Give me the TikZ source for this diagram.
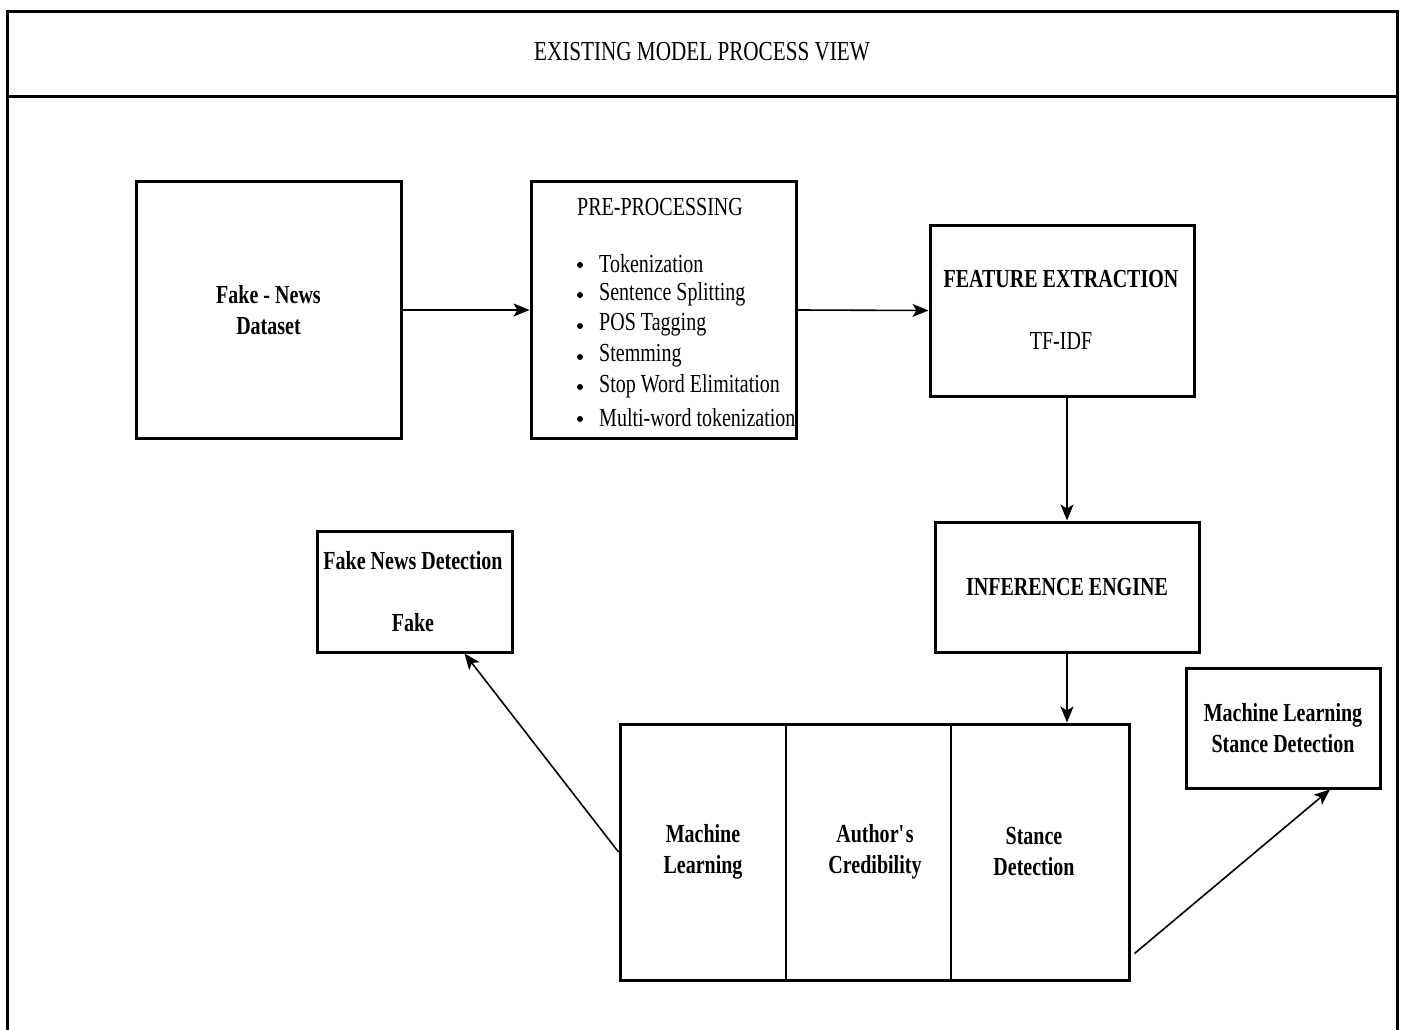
\documentclass[tikz,border=0pt]{standalone}
\usepackage{fontspec}
\setmainfont{Liberation Serif}[FakeStretch=0.77]
\usetikzlibrary{arrows.meta,calc}
\begin{document}
\begin{tikzpicture}[x=1pt,y=-1pt,
  box/.style={draw,line width=3pt,rectangle,inner sep=0pt,align=center},
  txt/.style={inner sep=0pt,align=center,font=\fontsize{26}{31}\selectfont},
  btxt/.style={txt,font=\fontsize{26}{31}\selectfont\bfseries},
  conn/.style={line width=1.6pt,-{Stealth[length=16pt,width=13pt,inset=4pt]}},
  frame/.style={line width=3pt}]
\useasboundingbox (0,0) rectangle (1401,1030);
% outer frame
\coordinate (ftl) at (7,12);
\coordinate (ftr) at (1397,12);
\coordinate (fbl) at (7,1032);
\coordinate (fbr) at (1397,1032);
\coordinate (fdl) at (7,97);
\coordinate (fdr) at (1397,97);
\draw[frame] (fbl) -- (ftl) -- (ftr) -- (fbr);
\draw[frame] (fdl) -- (fdr);
\node[txt,font=\fontsize{27.5}{31}\selectfont] (title) at (702,52) {EXISTING MODEL PROCESS VIEW};
% boxes
\node[box,btxt,minimum width=265pt,minimum height=256pt] (ds) at (268.5,310) {Fake - News\\Dataset};
\node[box,minimum width=265pt,minimum height=256pt] (pre) at (663.5,310) {};
\node[box,minimum width=264pt,minimum height=171pt] (fe) at (1062,310.5) {};
\node[box,btxt,minimum width=264pt,minimum height=130pt] (inf) at (1067,587) {INFERENCE ENGINE};
\node[box,minimum width=509pt,minimum height=256pt] (bot) at (874.5,852) {};
\node[box,minimum width=195pt,minimum height=121pt] (fnd) at (414.5,591.5) {};
\node[box,btxt,minimum width=194pt,minimum height=120pt] (mlsd) at (1283,728) {Machine Learning\\Stance Detection};
% pre-processing text
\node[txt] (pretitle) at (660,207) {PRE-PROCESSING};
\foreach \y/\t [count=\i] in {264/Tokenization,294/Sentence Splitting,325/POS Tagging,356/Stemming,386/Stop Word Elimitation,418/Multi-word tokenization}{
  \node[txt,anchor=west] (item\i) at (599,\y) {\t};
  \node[circle,fill,inner sep=0pt,minimum size=6pt] (bul\i) at (580,\y+1) {};
}
% feature extraction text
\node[btxt] (fetitle) at (1061,279) {FEATURE EXTRACTION};
\node[txt] (tfidf) at (1061,341) {TF-IDF};
% fake news detection text
\node[btxt] (fndtitle) at (413,561) {Fake News Detection};
\node[btxt] (fake) at (413,623) {Fake};
% bottom columns
\coordinate (d1t) at (786,724);
\coordinate (d1b) at (786,980);
\coordinate (d2t) at (951,724);
\coordinate (d2b) at (951,980);
\draw[line width=1.6pt] (d1t) -- (d1b);
\draw[line width=1.6pt] (d2t) -- (d2b);
\node[btxt] (ml) at (703,852) {Machine\\Learning};
\node[btxt] (ac) at (875,852) {Author\textquotesingle s\\Credibility};
\node[btxt] (sd) at (1034,852) {Stance\\Detection};
% connectors
\draw[conn] (ds.east) -- (pre.west);
\draw[conn] (pre.east) -- (fe.west);
\draw[conn] (inf.north |- fe.south) -- (inf.north);
\draw[conn] (inf.south) -- (inf.south |- bot.north);
\coordinate (fndend) at ($(fnd.south)+(50,0)$);
\draw[conn] (bot.west) -- (fndend);
\coordinate (botout) at ($(bot.south east)+(4,-28)$);
\coordinate (mlsdend) at ($(mlsd.south)+(47,0)$);
\draw[conn] (botout) -- (mlsdend);
\end{tikzpicture}
\end{document}
